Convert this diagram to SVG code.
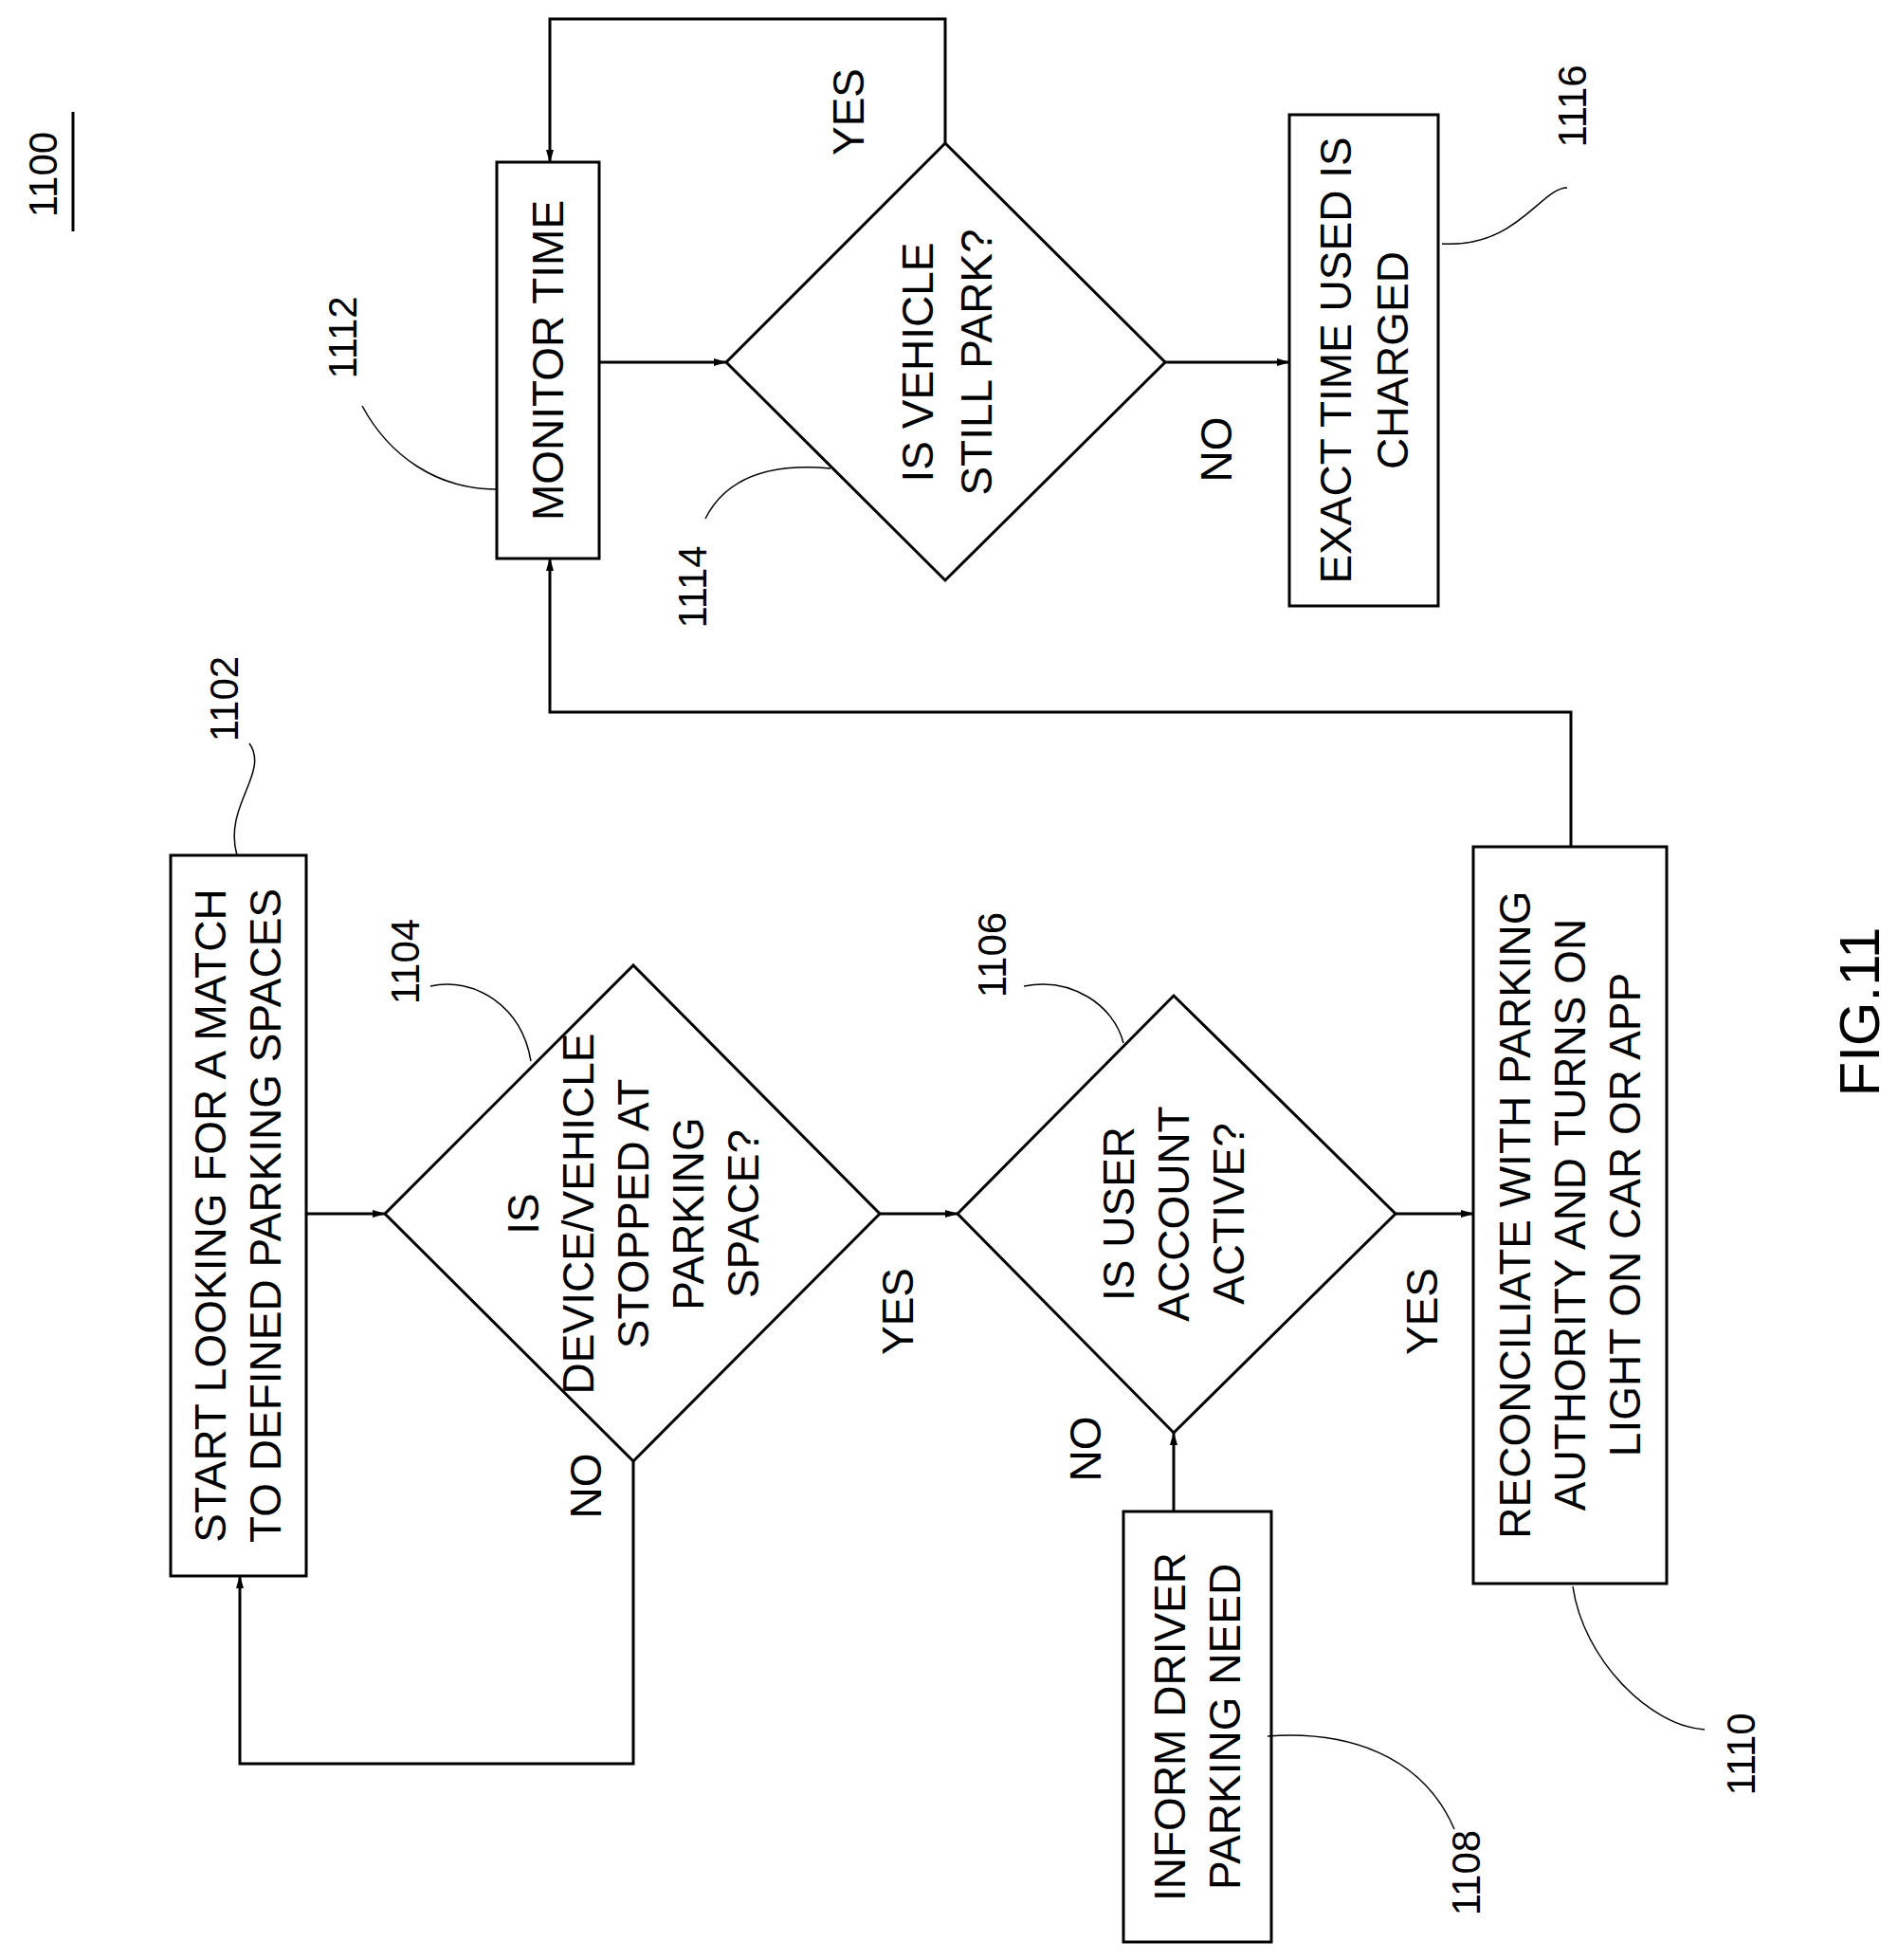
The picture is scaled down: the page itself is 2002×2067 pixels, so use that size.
<svg xmlns="http://www.w3.org/2000/svg" width="2002" height="2067" viewBox="0 0 2002 2067">
<style>
.s{fill:none;stroke:#000;stroke-width:3}
.c{fill:none;stroke:#000;stroke-width:3}
.l{fill:none;stroke:#000;stroke-width:1.5}
text{font-family:"Liberation Sans",Arial,sans-serif;font-size:46px;fill:#000;text-anchor:middle}
.r{font-size:42px}
</style>
<defs><marker id="a" markerWidth="14" markerHeight="8" refX="13" refY="4" orient="auto" markerUnits="userSpaceOnUse"><path d="M0,0 L14,4 L0,8 z" fill="#000"/></marker></defs>
<rect width="2002" height="2067" fill="#fff"/>
<g id="title"><text class="r" transform="translate(60,184) rotate(-90)">1100</text><line x1="77" y1="118" x2="77" y2="244" stroke="#000" stroke-width="3"/></g>
<g id="n1102"><rect class="s" x="180" y="902" width="143" height="760"/><text transform="translate(251,1282) rotate(-90)"><tspan x="0" y="-13">START LOOKING FOR A MATCH</tspan><tspan x="0" y="45">TO DEFINED PARKING SPACES</tspan></text></g>
<g id="n1104"><polygon class="s" points="406,1280 668,1018 928,1280 668,1541"/><text transform="translate(668,1280) rotate(-90)"><tspan x="0" y="-100">IS</tspan><tspan x="0" y="-42">DEVICE/VEHICLE</tspan><tspan x="0" y="16">STOPPED AT</tspan><tspan x="0" y="74">PARKING</tspan><tspan x="0" y="132">SPACE?</tspan></text></g>
<g id="n1106"><polygon class="s" points="1010,1280 1238,1050 1472,1280 1238,1511"/><text transform="translate(1238,1280) rotate(-90)"><tspan x="0" y="-42">IS USER</tspan><tspan x="0" y="16">ACCOUNT</tspan><tspan x="0" y="74">ACTIVE?</tspan></text></g>
<g id="n1108"><rect class="s" x="1185" y="1594" width="156" height="454"/><text transform="translate(1263,1821) rotate(-90)"><tspan x="0" y="-13">INFORM DRIVER</tspan><tspan x="0" y="45">PARKING NEED</tspan></text></g>
<g id="n1110"><rect class="s" x="1554" y="893" width="204" height="777"/><text transform="translate(1656,1281) rotate(-90)"><tspan x="0" y="-42">RECONCILIATE WITH PARKING</tspan><tspan x="0" y="16">AUTHORITY AND TURNS ON</tspan><tspan x="0" y="74">LIGHT ON CAR OR APP</tspan></text></g>
<g id="n1112"><rect class="s" x="524" y="171" width="108" height="418"/><text transform="translate(578,380) rotate(-90)"><tspan x="0" y="16">MONITOR TIME</tspan></text></g>
<g id="n1114"><polygon class="s" points="766,382 997,151 1229,382 997,612"/><text transform="translate(997,382) rotate(-90)"><tspan x="0" y="-13">IS VEHICLE</tspan><tspan x="0" y="49">STILL PARK?</tspan></text></g>
<g id="n1116"><rect class="s" x="1360" y="121" width="157" height="518"/><text transform="translate(1438,380) rotate(-90)"><tspan x="0" y="-13">EXACT TIME USED IS</tspan><tspan x="0" y="47">CHARGED</tspan></text></g>
<g id="connectors">
<path class="c" d="M323,1280 H406" marker-end="url(#a)"/>
<path class="c" d="M668,1541 V1860 H253 V1662" marker-end="url(#a)"/>
<path class="c" d="M928,1280 H1010" marker-end="url(#a)"/>
<path class="c" d="M1472,1280 H1554" marker-end="url(#a)"/>
<path class="c" d="M1238,1594 V1511" marker-end="url(#a)"/>
<path class="c" d="M1657,893 V751 H580 V589" marker-end="url(#a)"/>
<path class="c" d="M632,382 H766" marker-end="url(#a)"/>
<path class="c" d="M997,151 V20 H580 V171" marker-end="url(#a)"/>
<path class="c" d="M1229,382 H1360" marker-end="url(#a)"/>
</g>
<g id="labels">
<text transform="translate(634,1567) rotate(-90)">NO</text>
<text transform="translate(963,1383) rotate(-90)">YES</text>
<text transform="translate(1161,1528) rotate(-90)">NO</text>
<text transform="translate(1516,1383) rotate(-90)">YES</text>
<text transform="translate(911,118) rotate(-90)">YES</text>
<text transform="translate(1299,474) rotate(-90)">NO</text>
<text class="r" transform="translate(251,737) rotate(-90)">1102</text>
<text class="r" transform="translate(442,1014) rotate(-90)">1104</text>
<text class="r" transform="translate(1061,1007) rotate(-90)">1106</text>
<text class="r" transform="translate(1561,1975) rotate(-90)">1108</text>
<text class="r" transform="translate(1851,1850) rotate(-90)">1110</text>
<text class="r" transform="translate(376,356) rotate(-90)">1112</text>
<text class="r" transform="translate(745,619) rotate(-90)">1114</text>
<text class="r" transform="translate(1673,112) rotate(-90)">1116</text>
<text style="font-size:60px" transform="translate(1982,1067) rotate(-90)">FIG.11</text>
</g>
<g id="leaders">
<path class="l" d="M263,784 C285,815 235,850 250,902"/>
<path class="l" d="M454,1040 C500,1030 550,1060 560,1119"/>
<path class="l" d="M1080,1040 C1130,1030 1175,1060 1185,1100"/>
<path class="l" d="M1534,1929 C1500,1850 1420,1825 1337,1831"/>
<path class="l" d="M1798,1824 C1740,1820 1670,1750 1659,1673"/>
<path class="l" d="M382,428 C410,480 460,516 524,516"/>
<path class="l" d="M744,547 C765,505 810,488 876,494"/>
<path class="l" d="M1653,198 C1625,198 1600,262 1521,257"/>
</g>
</svg>
